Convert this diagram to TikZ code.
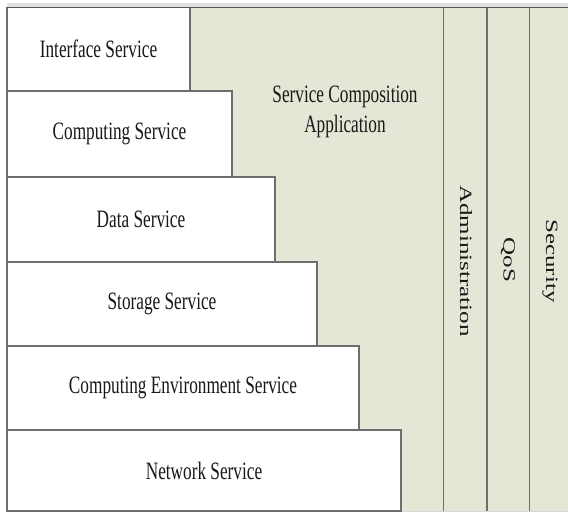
\documentclass[tikz,border=0pt]{standalone}
\usepackage{fontspec}
\setmainfont{Liberation Serif}
\usepackage{graphicx}
\definecolor{appgreen}{RGB}{227,231,213}
\definecolor{linegray}{RGB}{110,110,110}
\definecolor{txtgray}{RGB}{25,25,25}
\newcommand\hsq[1]{\scalebox{0.69}[1]{#1}}
\newcommand\vsq[1]{\scalebox{0.69}[1]{\rotatebox{-90}{#1}}}
\tikzset{
  svcbox/.style={draw=linegray, line width=1.3pt, fill=white, inner sep=0pt, text=txtgray,
    font=\fontsize{25}{31}\selectfont},
  lbl/.style={text=txtgray, font=\fontsize{25}{31}\selectfont, inner sep=0pt},
  colline/.style={draw=linegray, line width=1.2pt},
}
\begin{document}
\begin{tikzpicture}[x=1pt,y=-1pt]
\useasboundingbox (0,0) rectangle (568,514);
\fill[white] (0,0) rectangle (568,514);
% application area
\fill[appgreen] (7,8) rectangle (568,511);
\fill[black!12] (7,3) rectangle (568,7);
\coordinate (tl) at (7,7.5);
\coordinate (tr) at (568,7.5);
\coordinate (bl) at (7,511);
\coordinate (br) at (568,511);
\draw[draw=black!15, line width=1pt] (bl) -- (br);
% columns
\coordinate (c1t) at (443.5,7.5); \coordinate (c1b) at (443.5,511);
\coordinate (c2t) at (487,7.5);   \coordinate (c2b) at (487,511);
\coordinate (c3t) at (529.5,7.5); \coordinate (c3b) at (529.5,511);
\draw[colline] (c1t) -- (c1b);
\draw[colline] (c2t) -- (c2b);
\draw[colline] (c3t) -- (c3b);
% service boxes
\node[svcbox, minimum width=183pt, minimum height=83.5pt] (iface) at (98.5,49.25) {\hsq{Interface Service}};
\node[svcbox, minimum width=225pt, minimum height=86pt] (comp) at (119.5,134) {\hsq{Computing Service}};
\node[svcbox, minimum width=268pt, minimum height=85pt] (data) at (141,219.5) {\hsq{Data Service}};
\node[svcbox, minimum width=310pt, minimum height=84pt] (stor) at (162,304) {\hsq{Storage Service}};
\node[svcbox, minimum width=352pt, minimum height=84pt] (cenv) at (183,388) {\hsq{Computing Environment Service}};
\node[svcbox, minimum width=394pt, minimum height=81pt] (netw) at (204,470.5) {\hsq{Network Service}};
\draw[draw=linegray!80!black, line width=1.6pt] (tl) -- (tr);
\draw[colline] (tl) -- (bl);
% labels
\node[lbl, align=center] (app) at (345,111) {\hsq{\begin{tabular}{@{}c@{}}Service Composition\\[-0.6pt]Application\end{tabular}}};
\node[lbl] (adm) at (466,261) {\vsq{Administration}};
\node[lbl] (qos) at (508,260) {\vsq{QoS}};
\node[lbl] (sec) at (550,261) {\vsq{Security}};
\end{tikzpicture}
\end{document}
